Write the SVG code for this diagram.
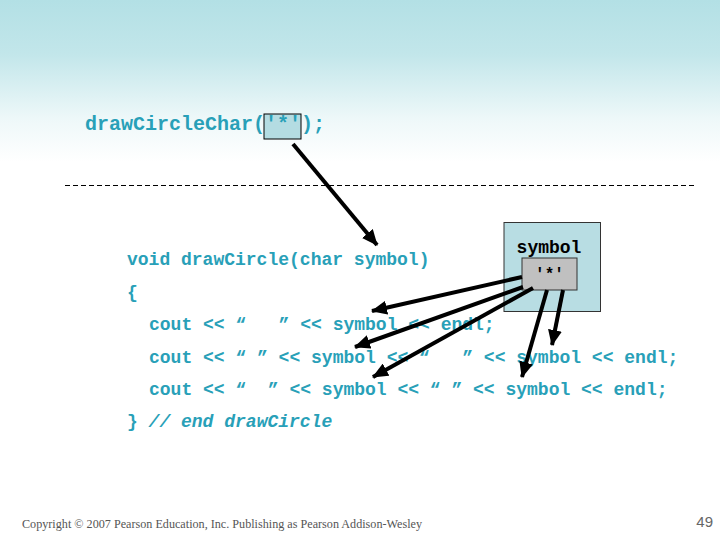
<svg xmlns="http://www.w3.org/2000/svg" width="720" height="540" viewBox="0 0 720 540">
<defs>
<linearGradient id="bg" x1="0" y1="0" x2="0" y2="1">
<stop offset="0" stop-color="#b3e0e5"/>
<stop offset="0.1" stop-color="#c2e6ea"/>
<stop offset="0.22" stop-color="#eef8f9"/>
<stop offset="0.3" stop-color="#ffffff"/>
</linearGradient>
<marker id="ah" markerUnits="userSpaceOnUse" markerWidth="16" markerHeight="14" refX="15" refY="7" orient="auto">
<path d="M0,0 L16,7 L0,14 Z" fill="#000"/>
</marker>
<style>
.code{font-family:"Liberation Mono","Courier New",monospace;font-weight:bold;font-size:18px;fill:#28a0b8;white-space:pre}
.arr{stroke:#000;stroke-width:4;fill:none;marker-end:url(#ah)}
</style>
</defs>
<rect width="720" height="540" fill="url(#bg)"/>
<g id="call">
<rect x="264" y="114" width="37" height="25" fill="#b4dce2" stroke="#000" stroke-width="1"/>
<text class="code" x="85" y="130" style="font-size:20px">drawCircleChar('*');</text>
</g>
<line x1="65" y1="185.5" x2="695" y2="185.5" stroke="#000" stroke-width="1" stroke-dasharray="5,3"/>
<g id="symbolBox">
<rect x="504" y="222.5" width="96.5" height="89" fill="#b8dde3" stroke="#333" stroke-width="1"/>
<text class="code" x="549" y="253" text-anchor="middle" style="fill:#000">symbol</text>
<rect x="522" y="258" width="55" height="32" fill="#c0c0c0" stroke="#333" stroke-width="1"/>
<text class="code" x="549.5" y="279" text-anchor="middle" style="fill:#000;font-size:16px">'*'</text>
</g>
<g id="code">
<text class="code" x="127" y="265">void drawCircle(char symbol)</text>
<text class="code" x="127" y="298">{</text>
<text class="code" x="149" y="330" xml:space="preserve">cout &lt;&lt; “   ” &lt;&lt; symbol &lt;&lt; endl;</text>
<text class="code" x="149" y="363" xml:space="preserve">cout &lt;&lt; “ ” &lt;&lt; symbol &lt;&lt; “   ” &lt;&lt; symbol &lt;&lt; endl;</text>
<text class="code" x="149" y="395" xml:space="preserve">cout &lt;&lt; “  ” &lt;&lt; symbol &lt;&lt; “ ” &lt;&lt; symbol &lt;&lt; endl;</text>
<text class="code" x="127" y="427" xml:space="preserve">} <tspan font-style="italic">// end drawCircle</tspan></text>
</g>
<g id="connectors">
<line class="arr" x1="293" y1="144" x2="377" y2="245"/>
<line class="arr" x1="522" y1="277" x2="372" y2="311"/>
<line class="arr" x1="523" y1="287" x2="355" y2="347"/>
<line class="arr" x1="533" y1="288" x2="373" y2="377"/>
<line class="arr" x1="547" y1="290" x2="522" y2="377"/>
<line class="arr" x1="563" y1="290" x2="552" y2="345"/>
</g>
<g id="footer">
<text x="22" y="528" font-family="Liberation Serif, Times New Roman, serif" font-size="12.5" fill="#555" textLength="400" lengthAdjust="spacingAndGlyphs">Copyright © 2007 Pearson Education, Inc. Publishing as Pearson Addison-Wesley</text>
<text x="713" y="527" text-anchor="end" font-family="Liberation Sans, Arial, sans-serif" font-size="15" fill="#666">49</text>
</g>
</svg>
